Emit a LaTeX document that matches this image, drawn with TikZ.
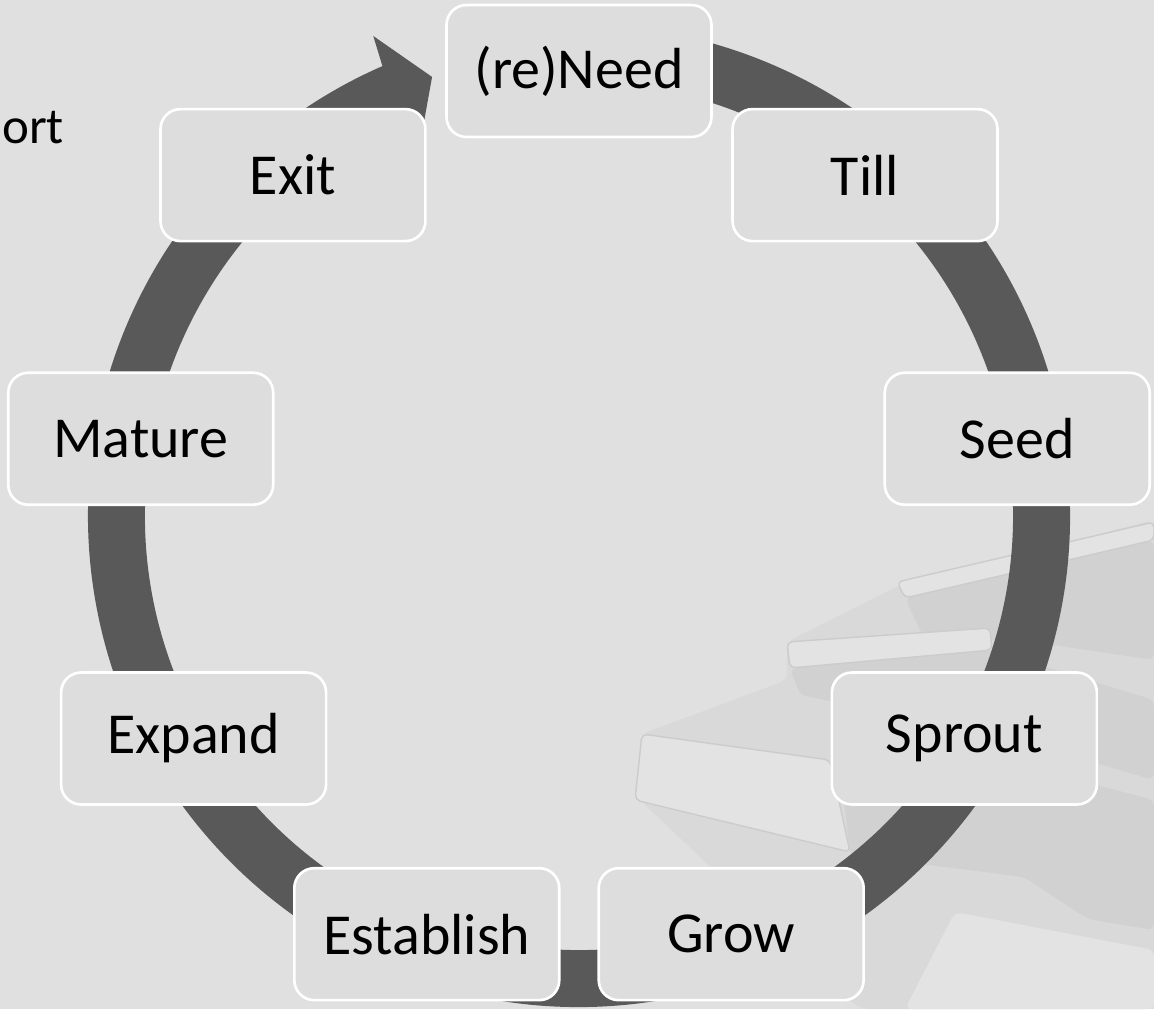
\documentclass[tikz,border=0pt]{standalone}
\usepackage{fontspec}
\setmainfont{Carlito}
\definecolor{bgc}{HTML}{E0E0E0}
\definecolor{boxc}{HTML}{DDDDDD}
\definecolor{ringc}{HTML}{595959}
\definecolor{bookdark}{HTML}{D1D1D1}
\definecolor{bookmid}{HTML}{D9D9D9}
\definecolor{booklight}{HTML}{E3E3E3}
\definecolor{bookedge}{HTML}{CCCCCC}
\begin{document}
\begin{tikzpicture}[x=0.02cm,y=0.02cm,
  stagebox/.style={draw=white, line width=1.5pt, fill=boxc, rounded corners=0.4cm,
    minimum width=5.3cm, minimum height=2.64cm, inner sep=0pt,
    font=\fontsize{33}{40}\selectfont, text=black},
  pxframe/.style={shift={(-579,516)}, yscale=-1},
  pageedge/.style={draw=bookedge, line width=0.8pt, line join=round, rounded corners=3pt}]
% background
\fill[bgc] (-579,516) rectangle (575,-493);
\useasboundingbox (-579,516) rectangle (575,-493);
% faint books in the background (bottom right)
\begin{scope}[pxframe, rounded corners=4pt]
  \fill[bookmid] (900,585) -- (1154,520) -- (1154,1009) -- (860,1009) -- (640,800) -- (642,734) -- (787,680) -- (787,642) -- cycle;
  \fill[bookdark] (905,598) -- (1154,540) -- (1154,660) -- (1020,640) -- (925,640) -- cycle;
  \filldraw[booklight, pageedge] (897,582) -- (1154,522) -- (1154,540) -- (905,598) -- cycle;
  \fill[bookdark] (790,668) -- (990,650) -- (1154,700) -- (1154,780) -- (1000,735) -- (800,695) -- cycle;
  \filldraw[booklight, pageedge] (787,642) -- (990,628) -- (992,650) -- (790,668) -- cycle;
  \filldraw[booklight, pageedge] (642,734) -- (830,760) -- (850,852) -- (635,800) -- cycle;
  \fill[bookdark] (850,855) -- (1024,877) -- (1088,919) -- (1154,930) -- (1154,800) -- (1000,760) -- (840,762) -- cycle;
  \fill[booklight] (955,912) -- (1154,950) -- (1154,1009) -- (905,1009) -- cycle;
\end{scope}
% ring arrow
\fill[ringc] (100:491) arc[start angle=100, end angle=-246.4, radius=491]
  -- (-246.8:522.3) -- (-251.5:463) -- (-246.8:404)
  -- (-246.4:434) arc[start angle=-246.4, end angle=100, radius=434] -- cycle;
% stages
\node[stagebox] (need)  at (90:445)   {(re)Need};
\node[stagebox] (till)  at (50:445)   {Till};
\node[stagebox] (seed)  at (10:445)   {Seed};
\node[stagebox] (sprout) at (-30:445) {Sprout};
\node[stagebox] (grow)  at (-70:445)  {Grow};
\node[stagebox] (estab) at (-110:445) {Establish};
\node[stagebox] (expand) at (-150:445) {Expand};
\node[stagebox] (mature) at (170:445) {Mature};
\node[stagebox] (exit)  at (130:445)  {Exit};
% partial text at top left
\node[anchor=base west, inner sep=0pt, font=\fontsize{29}{35}\selectfont] (ort) at (-577,373) {ort};
\end{tikzpicture}
\end{document}
